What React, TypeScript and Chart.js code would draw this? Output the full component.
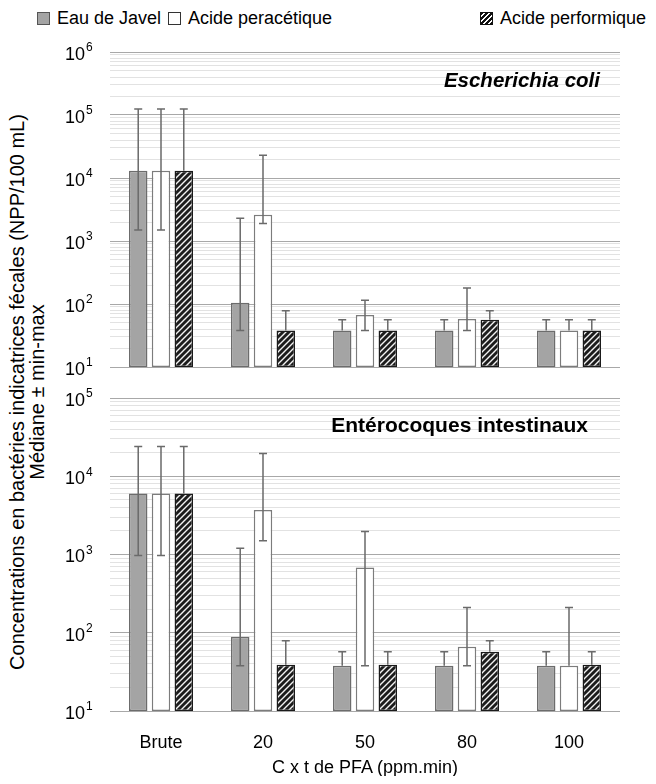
import React, { useEffect, useRef } from "react";
import { Chart, registerables } from "chart.js";

Chart.register(...registerables);

const categories = ["Brute", "20", "50", "80", "100"];
const seriesNames = ["Eau de Javel", "Acide peracétique", "Acide performique"];

// Escherichia coli — median, min, max (NPP/100 mL)
const ecoliJavelMedian = [13000, 105, 38, 38, 38];
const ecoliJavelMin = [1500, 38, 38, 38, 38];
const ecoliJavelMax = [125000, 2300, 56, 56, 56];
const ecoliPeraMedian = [13000, 2600, 67, 58, 38];
const ecoliPeraMin = [1500, 1900, 38, 38, 38];
const ecoliPeraMax = [125000, 23000, 115, 180, 56];
const ecoliPerfMedian = [13000, 38, 38, 56, 38];
const ecoliPerfMin = [13000, 38, 38, 56, 38];
const ecoliPerfMax = [125000, 78, 56, 78, 56];

// Entérocoques intestinaux — median, min, max (NPP/100 mL)
const enteroJavelMedian = [6000, 89, 38, 38, 38];
const enteroJavelMin = [970, 38, 38, 38, 38];
const enteroJavelMax = [24000, 1200, 57, 57, 57];
const enteroPeraMedian = [6000, 3700, 680, 66, 38];
const enteroPeraMin = [970, 1500, 38, 38, 38];
const enteroPeraMax = [24000, 19500, 1970, 210, 210];
const enteroPerfMedian = [6000, 39, 39, 57, 39];
const enteroPerfMin = [6000, 39, 39, 57, 39];
const enteroPerfMax = [24000, 79, 57, 79, 57];

const topExponents = [1, 2, 3, 4, 5, 6];
const bottomExponents = [1, 2, 3, 4, 5];
const minorMultipliers = [2, 3, 4, 5, 6, 7, 8, 9];

const FONT = '"Liberation Sans", Arial, sans-serif';

function makeHatch(): CanvasPattern | string {
  const c = document.createElement("canvas");
  c.width = 6;
  c.height = 6;
  const g = c.getContext("2d");
  if (!g) return "#333";
  g.fillStyle = "#1c1c1c";
  g.fillRect(0, 0, 6, 6);
  g.strokeStyle = "#f2f2f2";
  g.lineWidth = 1.4;
  g.beginPath();
  g.moveTo(-1, 7);
  g.lineTo(7, -1);
  g.moveTo(-4, 4);
  g.lineTo(4, -4);
  g.moveTo(2, 10);
  g.lineTo(10, 2);
  g.stroke();
  const p = g.createPattern(c, "repeat");
  return p || "#333";
}

function buildTicks(exps: number[]) {
  const out: { value: number; major: boolean }[] = [];
  for (let i = 0; i < exps.length; i++) {
    const base = Math.pow(10, exps[i]);
    out.push({ value: base, major: true });
    if (i < exps.length - 1) {
      for (const m of minorMultipliers) out.push({ value: base * m, major: false });
    }
  }
  return out;
}

function labelPlugin(exps: number[]) {
  return {
    id: "logLabels",
    afterDraw(chart: any) {
      const ctx = chart.ctx;
      const y = chart.scales.y;
      ctx.save();
      ctx.fillStyle = "#000";
      for (const e of exps) {
        const py = y.getPixelForValue(Math.pow(10, e));
        ctx.font = `18px ${FONT}`;
        ctx.textAlign = "right";
        ctx.textBaseline = "middle";
        ctx.fillText("10", 77, py + 3);
        ctx.font = `12px ${FONT}`;
        ctx.textAlign = "left";
        ctx.fillText(String(e), 78, py - 4);
      }
      ctx.restore();
    },
  };
}

const errorBarPlugin = {
  id: "errorBars",
  afterDatasetsDraw(chart: any) {
    const ctx = chart.ctx;
    const y = chart.scales.y;
    ctx.save();
    ctx.strokeStyle = "#6a6a6a";
    ctx.lineWidth = 1.5;
    chart.data.datasets.forEach((ds: any, i: number) => {
      const meta = chart.getDatasetMeta(i);
      meta.data.forEach((bar: any, j: number) => {
        const x = bar.x;
        const med = ds.data[j];
        const lo = ds.errMin[j];
        const hi = ds.errMax[j];
        const yLo = y.getPixelForValue(lo);
        const yHi = y.getPixelForValue(hi);
        const yMed = y.getPixelForValue(med);
        ctx.beginPath();
        ctx.moveTo(x, Math.min(yHi, yMed));
        ctx.lineTo(x, Math.max(yLo, yMed));
        if (hi > med) {
          ctx.moveTo(x - 4, yHi);
          ctx.lineTo(x + 4, yHi);
        }
        if (lo < med) {
          ctx.moveTo(x - 4, yLo);
          ctx.lineTo(x + 4, yLo);
        }
        ctx.stroke();
      });
    });
    ctx.restore();
  },
};

function makeDatasets(
  hatch: CanvasPattern | string,
  meds: number[][],
  mins: number[][],
  maxs: number[][]
) {
  const fills = ["#a4a4a4", "#ffffff", hatch];
  const borders = ["#6c6c6c", "#7c7c7c", "#1a1a1a"];
  return seriesNames.map((name, k) => ({
    label: name,
    data: meds[k],
    errMin: mins[k],
    errMax: maxs[k],
    backgroundColor: fills[k],
    borderColor: borders[k],
    borderWidth: 1.5,
    borderSkipped: false,
    categoryPercentage: 0.67,
    barPercentage: 0.81,
  }));
}

function yScale(exps: number[]) {
  return {
    type: "logarithmic",
    min: 10,
    max: Math.pow(10, exps[exps.length - 1]),
    afterFit: (s: any) => {
      s.width = 102;
    },
    afterBuildTicks: (s: any) => {
      s.ticks = buildTicks(exps);
    },
    ticks: { display: false },
    grid: {
      drawTicks: false,
      color: (c: any) => (c.tick && c.tick.major ? "#a8a8a8" : "#e2e2e2"),
      lineWidth: 1,
    },
    border: { display: false },
  };
}

function PanelChart(props: {
  exps: number[];
  meds: number[][];
  mins: number[][];
  maxs: number[][];
  showX: boolean;
  height: number;
  padTop: number;
  padBottom: number;
}) {
  const ref = useRef<HTMLCanvasElement | null>(null);
  useEffect(() => {
    if (!ref.current) return;
    const hatch = makeHatch();
    const xScale: any = {
      display: props.showX,
      grid: { display: false },
      border: { display: false },
      ticks: {
        color: "#000",
        padding: 13,
        font: { family: FONT, size: 18 },
      },
    };
    if (props.showX) {
      xScale.afterFit = (s: any) => {
        s.height = 54;
      };
    }
    const chart = new Chart(ref.current, {
      type: "bar",
      data: {
        labels: categories,
        datasets: makeDatasets(hatch, props.meds, props.mins, props.maxs) as any,
      },
      options: {
        animation: false,
        responsive: false,
        maintainAspectRatio: false,
        layout: { padding: { left: 0, right: 28, top: props.padTop, bottom: props.padBottom } },
        plugins: { legend: { display: false }, tooltip: { enabled: false } },
        scales: {
          x: xScale,
          y: yScale(props.exps) as any,
        },
      },
      plugins: [errorBarPlugin, labelPlugin(props.exps)],
    });
    return () => chart.destroy();
  }, []);
  return <canvas ref={ref} width={640} height={props.height} style={{ display: "block", width: 640, height: props.height }} />;
}

const swatchBase: React.CSSProperties = {
  position: "absolute",
  top: 4,
  width: 13,
  height: 13,
  boxSizing: "border-box",
};

const legendText: React.CSSProperties = {
  position: "absolute",
  top: 0,
  fontSize: 18,
  lineHeight: "20px",
  whiteSpace: "nowrap",
  color: "#000",
};

export default function App() {
  return (
    <div style={{ position: "relative", width: 640, height: 768, fontFamily: FONT }}>
      {/* legend */}
      <div style={{ ...swatchBase, left: 29, background: "#a4a4a4", border: "1px solid #555" }} />
      <div style={{ ...legendText, left: 49 }}>{seriesNames[0]}</div>
      <div style={{ ...swatchBase, left: 160, background: "#fff", border: "1px solid #333" }} />
      <div style={{ ...legendText, left: 180 }}>{seriesNames[1]}</div>
      <div
        style={{
          ...swatchBase,
          left: 472,
          border: "1px solid #111",
          background: "repeating-linear-gradient(135deg, #111 0px, #111 2px, #fff 2px, #fff 3.5px)",
        }}
      />
      <div style={{ ...legendText, left: 492 }}>{seriesNames[2]}</div>

      {/* y-axis title */}
      <div
        style={{
          position: "absolute",
          left: 19,
          top: 384,
          width: 0,
          height: 0,
        }}
      >
        <div
          style={{
            position: "absolute",
            left: 0,
            top: 0,
            transform: "translate(-50%, -50%) rotate(-90deg)",
            fontSize: 20,
            lineHeight: "20px",
            textAlign: "center",
            whiteSpace: "nowrap",
            color: "#000",
          }}
        >
          Concentrations en bactéries indicatrices fécales (NPP/100 mL)
          <br />
          Médiane ± min-max
        </div>
      </div>

      {/* top panel */}
      <div style={{ position: "absolute", left: 0, top: 32 }}>
        <PanelChart
          exps={topExponents}
          meds={[ecoliJavelMedian, ecoliPeraMedian, ecoliPerfMedian]}
          mins={[ecoliJavelMin, ecoliPeraMin, ecoliPerfMin]}
          maxs={[ecoliJavelMax, ecoliPeraMax, ecoliPerfMax]}
          showX={false}
          height={340}
          padTop={12}
          padBottom={13}
        />
      </div>
      <div
        style={{
          position: "absolute",
          right: 48,
          top: 61,
          fontSize: 20.5,
          fontWeight: "bold",
          fontStyle: "italic",
          whiteSpace: "nowrap",
          lineHeight: "22px",
        }}
      >
        Escherichia coli
      </div>

      {/* bottom panel */}
      <div style={{ position: "absolute", left: 0, top: 377 }}>
        <PanelChart
          exps={bottomExponents}
          meds={[enteroJavelMedian, enteroPeraMedian, enteroPerfMedian]}
          mins={[enteroJavelMin, enteroPeraMin, enteroPerfMin]}
          maxs={[enteroJavelMax, enteroPeraMax, enteroPerfMax]}
          showX={true}
          height={380}
          padTop={13}
          padBottom={0}
        />
      </div>
      <div
        style={{
          position: "absolute",
          right: 60,
          top: 406,
          fontSize: 21,
          fontWeight: "bold",
          whiteSpace: "nowrap",
          lineHeight: "22px",
        }}
      >
        Entérocoques intestinaux
      </div>

      {/* x-axis title */}
      <div
        style={{
          position: "absolute",
          left: 357,
          top: 749,
          transform: "translateX(-50%)",
          fontSize: 18,
          lineHeight: "20px",
          whiteSpace: "nowrap",
        }}
      >
        C x t de PFA (ppm.min)
      </div>
    </div>
  );
}
